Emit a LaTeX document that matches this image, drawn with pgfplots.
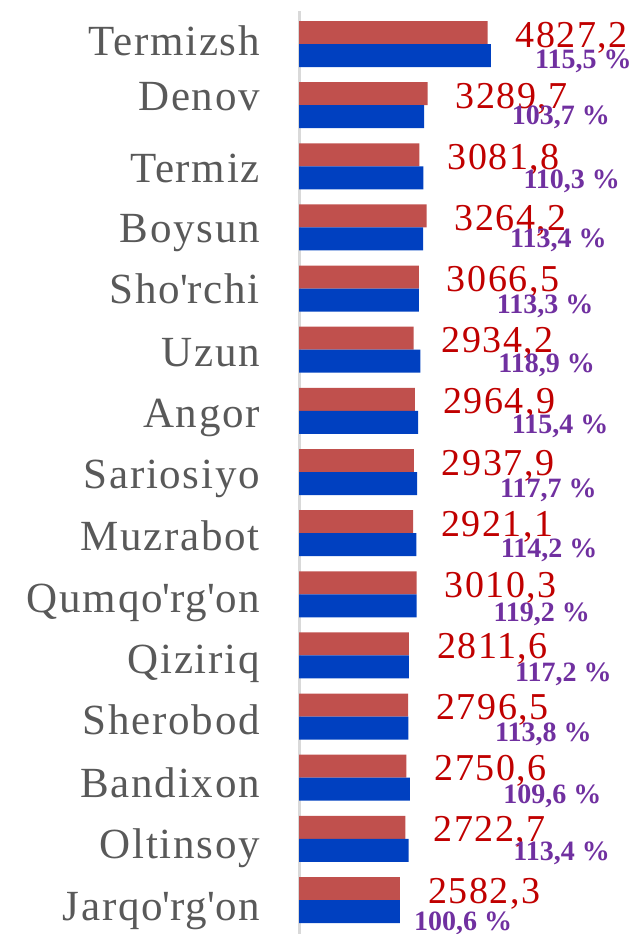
\documentclass[border=0pt]{standalone}
\usepackage{pgfplots}
\pgfplotsset{compat=1.18}
\usepackage{pgfplotstable}
\usepackage{fontspec}
\setmainfont{Liberation Serif}
\newfontfamily\catfont[LetterSpace=4]{Liberation Serif}
\newfontfamily\valfont[LetterSpace=4]{Liberation Serif}

\definecolor{redbar}{HTML}{C0504D}
\definecolor{bluebar}{HTML}{0040C0}
\definecolor{labred}{HTML}{C00000}
\definecolor{labpurple}{HTML}{7030A0}
\definecolor{catgray}{HTML}{595959}
\definecolor{axgray}{HTML}{D9D9D9}

% y: category slot (Termizsh on top), red/blue: bar lengths, pctx/pcty: where the % label sits
\pgfplotstableread{
y  red    blue  lab     pctx  pcty    pct
14 4827.2 4911  4827,2  6042  13.607  {115,5 \%}
13 3289.7 3206  3289,7  5445  12.689  {103,7 \%}
12 3081.8 3185  3081,8  5742  11.640  {110,3 \%}
11 3264.2 3177  3264,2  5402  10.665  {113,4 \%}
10 3066.5 3066  3066,5  5061  9.591   {113,3 \%}
9  2934.2 3106  2934,2  5102  8.624   {118,9 \%}
8  2964.9 3049  2964,9  5445  7.624   {115,4 \%}
7  2937.9 3024  2937,9  5146  6.591   {117,7 \%}
6  2921.1 3007  2921,1  5164  5.607   {114,2 \%}
5  3010.3 3010  3010,3  4974  4.558   {119,2 \%}
4  2811.6 2812  2811,6  5530  3.575   {117,2 \%}
3  2796.5 2797  2796,5  5018  2.591   {113,8 \%}
2  2750.6 2836  2750,6  5230  1.575   {109,6 \%}
1  2722.7 2808  2722,7  5486  0.640   {113,4 \%}
0  2582.3 2582  2582,3  2944  -0.491  {100,6 \%}
}\data

\begin{document}
\begin{tikzpicture}
\path[use as bounding box] (0pt,0pt) rectangle (634pt,-934pt);
\begin{axis}[
    at={(299pt,-934pt)}, anchor=south west,
    width=335pt, height=923pt, scale only axis,
    xmin=0, xmax=8576, ymin=-0.556, ymax=14.54,
    axis x line=none, axis y line*=left,
    y axis line style={draw=axgray, line width=3pt, -},
    xbar, bar width=23pt,
    ytick={-0.327,0.686,1.684,2.706,3.712,4.710,5.724,6.738,7.735,8.733,9.764,10.761,11.743,12.920,13.820},
    yticklabels={Jarqo\textquotesingle rg\textquotesingle on, Oltinsoy, Bandixon, Sherobod, Qiziriq,
        Qumqo\textquotesingle rg\textquotesingle on, Muzrabot, Sariosiyo, Angor, Uzun,
        Sho\textquotesingle rchi, Boysun, Termiz, Denov, Termizsh},
    major tick length=0pt,
    yticklabel style={anchor=base east, inner sep=0pt, xshift=-39pt,
        font=\catfont\fontsize{43}{48}\selectfont, text=catgray},
    clip=false,
]
\addplot[fill=redbar, draw=none, bar shift=11.5pt,
    nodes near coords, point meta=explicit symbolic,
    every node near coord/.append style={anchor=base west, inner sep=0pt,
        xshift=28pt, yshift=-14.5pt, text=labred,
        font=\valfont\fontsize{38}{42}\selectfont}]
    table[x=red, y=y, meta=lab] {\data};
\addplot[fill=bluebar, draw=none, bar shift=-11.5pt]
    table[x=blue, y=y] {\data};
\addplot[draw=none, fill=none, bar shift=0pt,
    nodes near coords, point meta=explicit symbolic,
    every node near coord/.append style={anchor=base west, inner sep=0pt,
        text=labpurple, font=\bfseries\fontsize{28}{31}\selectfont}]
    table[x=pctx, y=pcty, meta=pct] {\data};
\end{axis}
\end{tikzpicture}
\end{document}
